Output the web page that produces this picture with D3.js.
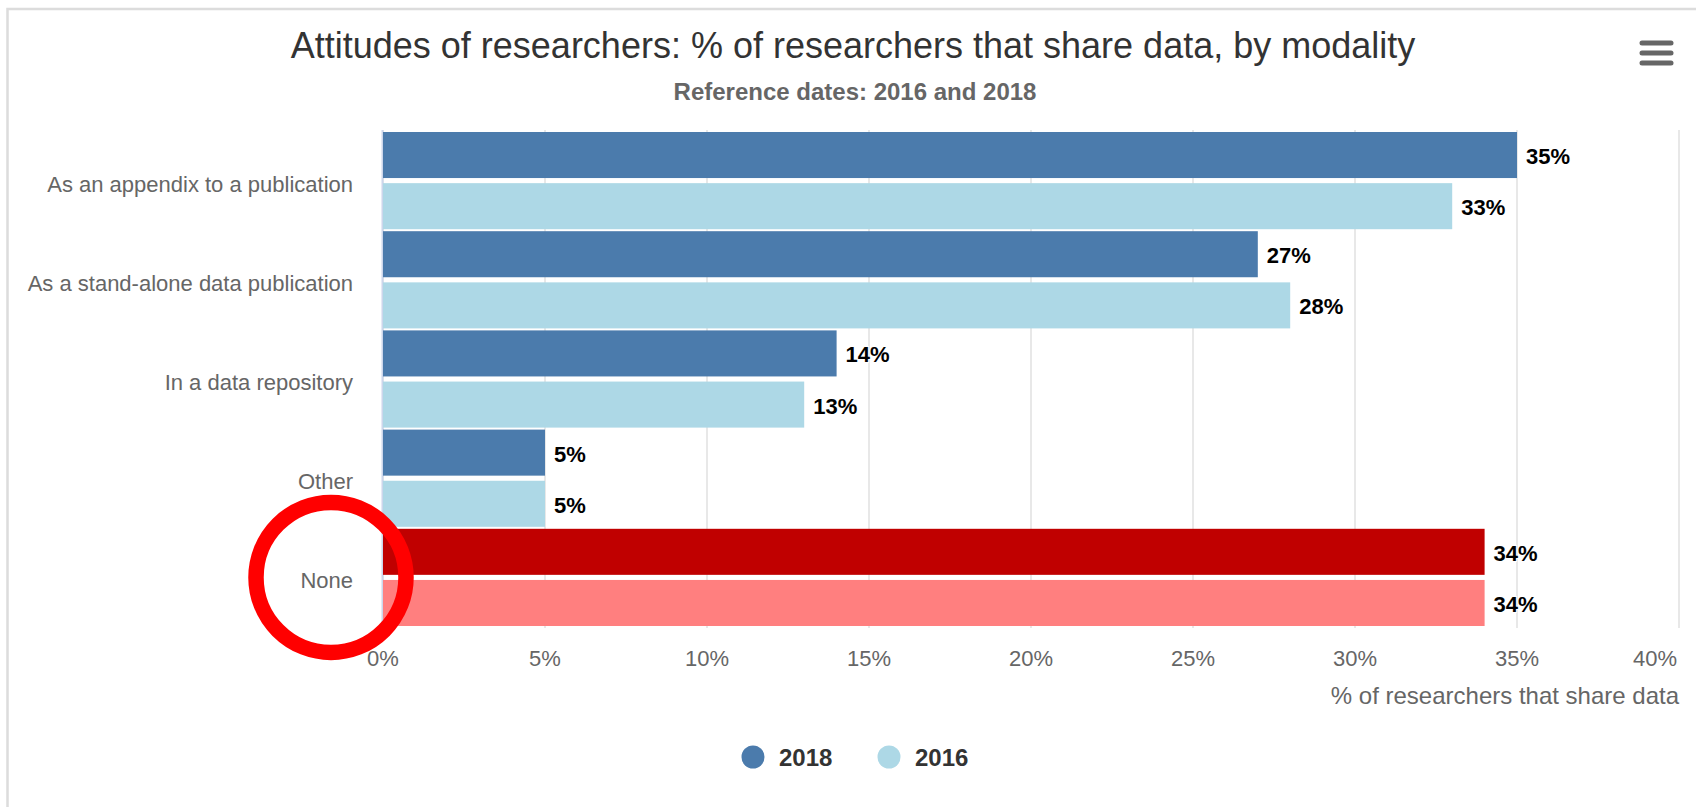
<!DOCTYPE html>
<html>
<head>
<meta charset="utf-8">
<script src="https://cdn.jsdelivr.net/npm/d3@7/dist/d3.min.js"></script>
<style>
  html, body { margin: 0; padding: 0; background: #fff; }
  svg { display: block; font-family: "Liberation Sans", Arial, Helvetica, sans-serif; }
</style>
</head>
<body>
<svg id="chart" width="1696" height="807"></svg>
<script>
// ---------- data ----------
const categories = [
  "As an appendix to a publication",
  "As a stand-alone data publication",
  "In a data repository",
  "Other",
  "None"
];
const seriesNames = ["2018", "2016"];
const values2018 = [35, 27, 14, 5, 34];
const values2016 = [33, 28, 13, 5, 34];
const xTicks = [0, 5, 10, 15, 20, 25, 30, 35, 40];
const highlightCategory = "None";

// ---------- styles ----------
const seriesColors = { "2018": "#4b7bac", "2016": "#add8e6" };
const highlightColors = { "2018": "#c00000", "2016": "#ff7f7f" };

const W = 1696, H = 807;
const plot = { left: 383, right: 1679, top: 131, bottom: 627 };

const svg = d3.select("#chart");

// chart frame (top & left edge only visible)
svg.append("path")
  .attr("d", `M7.5,${H} L7.5,9 L${W},9`)
  .attr("fill", "none").attr("stroke", "#dcdcdc").attr("stroke-width", 2.5);

// title
svg.append("text")
  .attr("x", 853).attr("y", 58)
  .attr("text-anchor", "middle")
  .attr("font-size", 36).attr("fill", "#333333")
  .text("Attitudes of researchers: % of researchers that share data, by modality");

svg.append("text")
  .attr("x", 855).attr("y", 100)
  .attr("text-anchor", "middle")
  .attr("font-size", 24).attr("font-weight", "bold").attr("fill", "#666666")
  .text("Reference dates: 2016 and 2018");

// hamburger menu
const menu = svg.append("g").attr("stroke", "#666666").attr("stroke-width", 5).attr("stroke-linecap", "round");
[43, 53, 63].forEach(y => {
  menu.append("line").attr("x1", 1642).attr("x2", 1671).attr("y1", y).attr("y2", y);
});

// scales
const x = d3.scaleLinear().domain([0, 40]).range([plot.left, plot.right]);
const y0 = d3.scaleBand().domain(categories).range([plot.top, plot.bottom]).padding(0);
const y1 = d3.scaleBand().domain(seriesNames).range([1, y0.bandwidth() - 1]).paddingInner(0.1).paddingOuter(0);

// gridlines
svg.append("g").selectAll("line").data(xTicks).join("line")
  .attr("x1", d => x(d)).attr("x2", d => x(d))
  .attr("y1", plot.top - 1).attr("y2", plot.bottom + 1)
  .attr("stroke", "#e8e8e8").attr("stroke-width", 2);

// category axis line
svg.append("line")
  .attr("x1", plot.left - 0.5).attr("x2", plot.left - 0.5)
  .attr("y1", plot.top - 1).attr("y2", plot.bottom + 1)
  .attr("stroke", "#ccd6eb").attr("stroke-width", 2);

// x tick labels
const tickG = svg.append("g").attr("font-size", 22).attr("fill", "#666666");
tickG.selectAll("text").data(xTicks).join("text")
  .attr("x", (d, i) => i === xTicks.length - 1 ? x(d) - 2 : x(d))
  .attr("y", 666)
  .attr("text-anchor", (d, i) => i === xTicks.length - 1 ? "end" : "middle")
  .text(d => d + "%");

// axis title
svg.append("text")
  .attr("x", plot.right).attr("y", 704)
  .attr("text-anchor", "end")
  .attr("font-size", 24).attr("fill", "#666666")
  .text("% of researchers that share data");

// category labels
svg.append("g").attr("font-size", 22).attr("fill", "#666666")
  .selectAll("text").data(categories).join("text")
  .attr("x", 353)
  .attr("y", d => y0(d) + y0.bandwidth() / 2 + 11)
  .attr("text-anchor", "end")
  .text(d => d);

// bars
const rows = [];
categories.forEach((c, i) => {
  rows.push({ cat: c, series: "2018", value: values2018[i] });
  rows.push({ cat: c, series: "2016", value: values2016[i] });
});

svg.append("g").selectAll("rect").data(rows).join("rect")
  .attr("x", x(0))
  .attr("y", d => y0(d.cat) + y1(d.series))
  .attr("width", d => x(d.value) - x(0))
  .attr("height", y1.bandwidth())
  .attr("fill", d => d.cat === highlightCategory ? highlightColors[d.series] : seriesColors[d.series]);

// data labels
svg.append("g").attr("font-size", 22).attr("font-weight", "bold")
  .selectAll("text").data(rows).join("text")
  .attr("x", d => x(d.value) + 9)
  .attr("y", d => y0(d.cat) + y1(d.series) + y1.bandwidth() / 2 + 9)
  .attr("fill", "#000000")
  .attr("stroke", "#ffffff").attr("stroke-width", 2).attr("paint-order", "stroke")
  .text(d => d.value + "%");

// legend
const legendX = { "2018": 753, "2016": 889 };
const lg = svg.append("g");
seriesNames.forEach(s => {
  lg.append("circle").attr("cx", legendX[s]).attr("cy", 757).attr("r", 11.5).attr("fill", seriesColors[s]);
  lg.append("text").attr("x", legendX[s] + 26).attr("y", 766)
    .attr("font-size", 24).attr("font-weight", "bold").attr("fill", "#333333").text(s);
});

// red highlight ring around "None"
svg.append("circle")
  .attr("cx", 331).attr("cy", y0(highlightCategory) + y0.bandwidth() / 2)
  .attr("r", 75).attr("fill", "none")
  .attr("stroke", "#ff0000").attr("stroke-width", 15.5);
</script>
</body>
</html>
